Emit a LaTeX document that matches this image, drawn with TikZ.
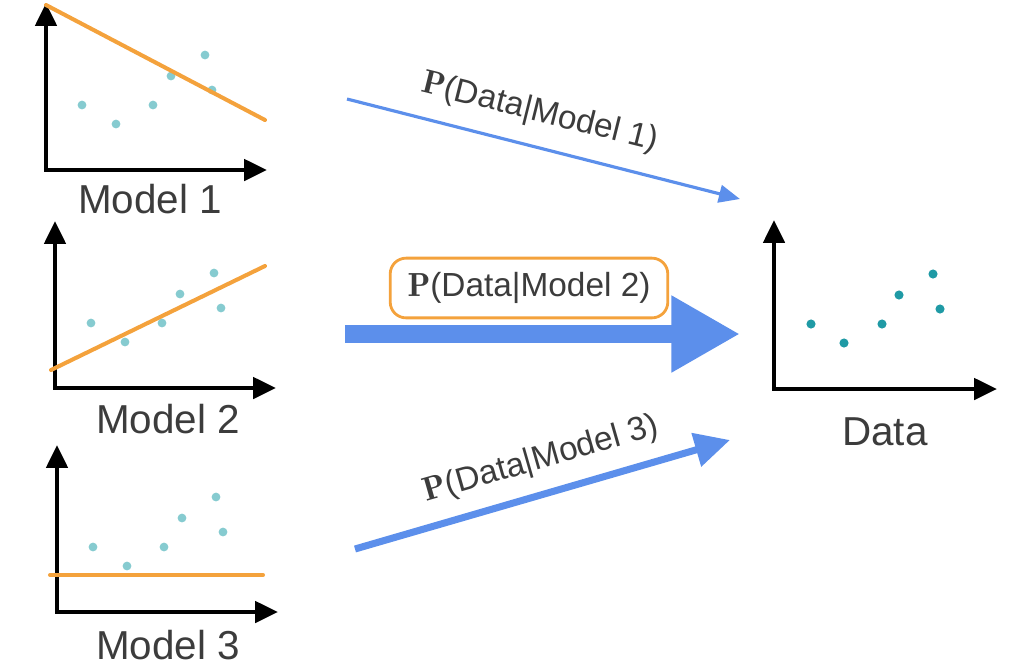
\documentclass[tikz,border=0pt]{standalone}
\usepackage{fontspec}
\setmainfont{Liberation Sans}
\usetikzlibrary{arrows.meta, positioning}
\definecolor{fitorange}{HTML}{F4A23C}
\definecolor{dotteal}{HTML}{86CBD0}
\definecolor{datateal}{HTML}{1F9AA5}
\definecolor{probblue}{HTML}{5C8FEB}
\definecolor{labelgray}{HTML}{3C3C3C}
\newcommand{\probP}{{\fontfamily{lmr}\bfseries P}}

\begin{document}
\begin{tikzpicture}[x=0.02cm, y=-0.02cm,
	axis/.style={line width=2.4pt, {Triangle[length=13pt,width=12pt]}-{Triangle[length=13pt,width=12pt]}},
	fitline/.style={fitorange, line width=2.3pt, line cap=round},
	plotlabel/.style={text=labelgray, anchor=base, font=\fontsize{23}{26}\selectfont},
	problabel/.style={text=labelgray, font=\fontsize{19}{23}\selectfont},
	probarrow/.style={probblue}]
	\useasboundingbox (0,0) rectangle (1024,664);
	
	% model plots: axes and dots
	\foreach \ox/\oy in {46/170, 55/388, 57/612}{
		\begin{scope}[shift={(\ox,\oy)}]
			\draw [axis] (0,-167) -- (0,0) -- (221,0);
			\foreach \px/\py in {36/-65, 70/-46, 107/-65, 125/-94, 159/-115, 166/-80}{
				\fill [dotteal] (\px,\py) circle (2.5pt);
			}
		\end{scope}
	}
	% data plot
	\begin{scope}[shift={(774,389)}]
		\draw [axis] (0,-169) -- (0,0) -- (223,0);
		\foreach \px/\py in {37/-65, 70/-46, 108/-65, 125/-94, 159/-115, 166/-80}{
			\fill [datateal] (\px,\py) circle (2.6pt);
		}
	\end{scope}
	
	% fitted lines
	\draw [fitline] (46,5) -- (265,120);
	\draw [fitline] (51,370) -- (265,266);
	\draw [fitline] (50,575) -- (263,575);
%	\draw [fitline] (50,560) -- (263,560);
	
	\node [plotlabel] (model1) at (150,213) {Model 1};
	\node [plotlabel] (model2) at (168,433) {Model 2};
	\node [plotlabel] (model3) at (168,659) {Model 3};
	\node [plotlabel] (data) at (885,445) {Data};
	
	% likelihood arrows
	\coordinate (m1out) at (347,99);
	\coordinate (d1in) at (740,199);
	\coordinate (m2out) at (345,334);
	\coordinate (d2in) at (740,334);
	\coordinate (m3out) at (355,549);
	\coordinate (d3in) at (730,440);
	
	\draw [probarrow, line width=1.8pt, -{Triangle[length=12pt,width=10pt]}] (m1out) -- (d1in);
	\draw [probarrow, line width=10.2pt, -{Triangle[length=39pt,width=41pt]}] (m2out) -- (d2in);
	\draw [probarrow, line width=4pt, -{Triangle[length=20pt,width=19pt]}] (m3out) -- (d3in);
	
	\node [problabel, rotate=-14] (lik1) at (540,113) {\probP(Data|Model 1)};
	\node [problabel, draw=fitorange, line width=1.6pt, fill=white, rounded corners=9pt,
		minimum width=158pt, minimum height=34pt] (lik2) at (529,288) {\probP(Data|Model 2)};
	\node [problabel, rotate=16] (lik3) at (541,460) {\probP(Data|Model 3)};
\end{tikzpicture}
\end{document}
